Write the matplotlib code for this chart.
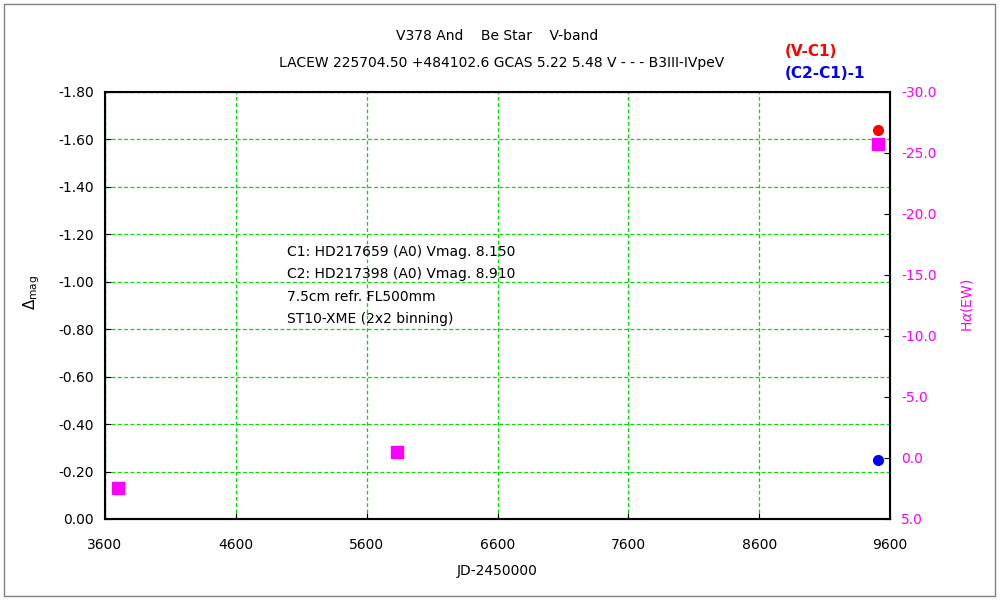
import matplotlib.pyplot as plt
from matplotlib.patches import Rectangle

plt.rcParams['font.family'] = ['DejaVu Sans']
plt.rcParams['mathtext.fontset'] = 'dejavusans'

# V-C1 and (C2-C1)-1 photometry
jd_v = [9508]
mag_v = [-1.64]
jd_c = [9505]
mag_c = [-0.25]

# H-alpha equivalent width
jd_ha = [3700, 5835, 9505]
ew_ha = [2.5, -0.5, -25.7]

xticks = [3600, 4600, 5600, 6600, 7600, 8600, 9600]
yticks = [0.0, -0.2, -0.4, -0.6, -0.8, -1.0, -1.2, -1.4, -1.6, -1.8]
rticks = [5.0, 0.0, -5.0, -10.0, -15.0, -20.0, -25.0, -30.0]

fig = plt.figure(figsize=(10, 6), dpi=100)
ax = fig.add_axes([0.105, 0.135, 0.785, 0.712])

ax.set_xlim(3600, 9600)
ax.set_ylim(0, -1.8)
ax.set_xticks(xticks)
ax.set_yticks(yticks)
ax.set_yticklabels(['%.2f' % v for v in yticks])
ax.grid(True, color='#00dd00', linestyle=(0, (3, 2)), linewidth=0.9)
ax.tick_params(direction='in', length=4, labelsize=10)
ax.tick_params(axis='x', pad=14)
ax.tick_params(axis='y', pad=8)
for s in ax.spines.values():
    s.set_linewidth(1.5)

ax.plot(jd_v, mag_v, 'o', color='red', markersize=7, zorder=5, clip_on=False)
ax.plot(jd_c, mag_c, 'o', color='blue', markersize=7, zorder=5, clip_on=False)

ax2 = ax.twinx()
ax2.set_ylim(5, -30)
ax2.set_yticks(rticks)
ax2.set_yticklabels(['%.1f' % v for v in rticks])
ax2.tick_params(direction='in', length=4, labelsize=10, colors='magenta', pad=8)
ax2.tick_params(axis='y', color='black')
ax2.plot(jd_ha, ew_ha, 's', color='magenta', markersize=8, zorder=5, clip_on=False)
ax2.set_ylabel(r'H$\alpha$(EW)', color='magenta', fontsize=10, labelpad=16)

ax.set_xlabel('JD-2450000', fontsize=10, labelpad=8)
ax.set_ylabel(r'$\Delta_{\rm mag}$', fontsize=11)
ax.yaxis.set_label_coords(-0.08, 0.53)

notes = ['C1: HD217659 (A0) Vmag. 8.150',
         'C2: HD217398 (A0) Vmag. 8.910',
         '7.5cm refr. FL500mm',
         'ST10-XME (2x2 binning)']
for i, t in enumerate(notes):
    fig.text(0.287, 1 - (252 + i * 22.3) / 600, t, fontsize=10, va='center')

fig.text(0.497, 1 - 36 / 600, 'V378 And    Be Star    V-band', ha='center', va='center', fontsize=10)
fig.text(0.502, 1 - 63 / 600, 'LACEW 225704.50 +484102.6 GCAS 5.22 5.48 V - - - B3III-IVpeV',
         ha='center', va='center', fontsize=10)
fig.text(0.785, 1 - 51 / 600, '(V-C1)', color='red', va='center', fontsize=11, fontweight='bold')
fig.text(0.785, 1 - 73 / 600, '(C2-C1)-1', color='blue', va='center', fontsize=11, fontweight='bold')

fig.patches.append(Rectangle((0.004, 0.006), 0.991, 0.988, transform=fig.transFigure,
                             fill=False, edgecolor='gray', linewidth=1))

fig.savefig('out.png', dpi=100)
